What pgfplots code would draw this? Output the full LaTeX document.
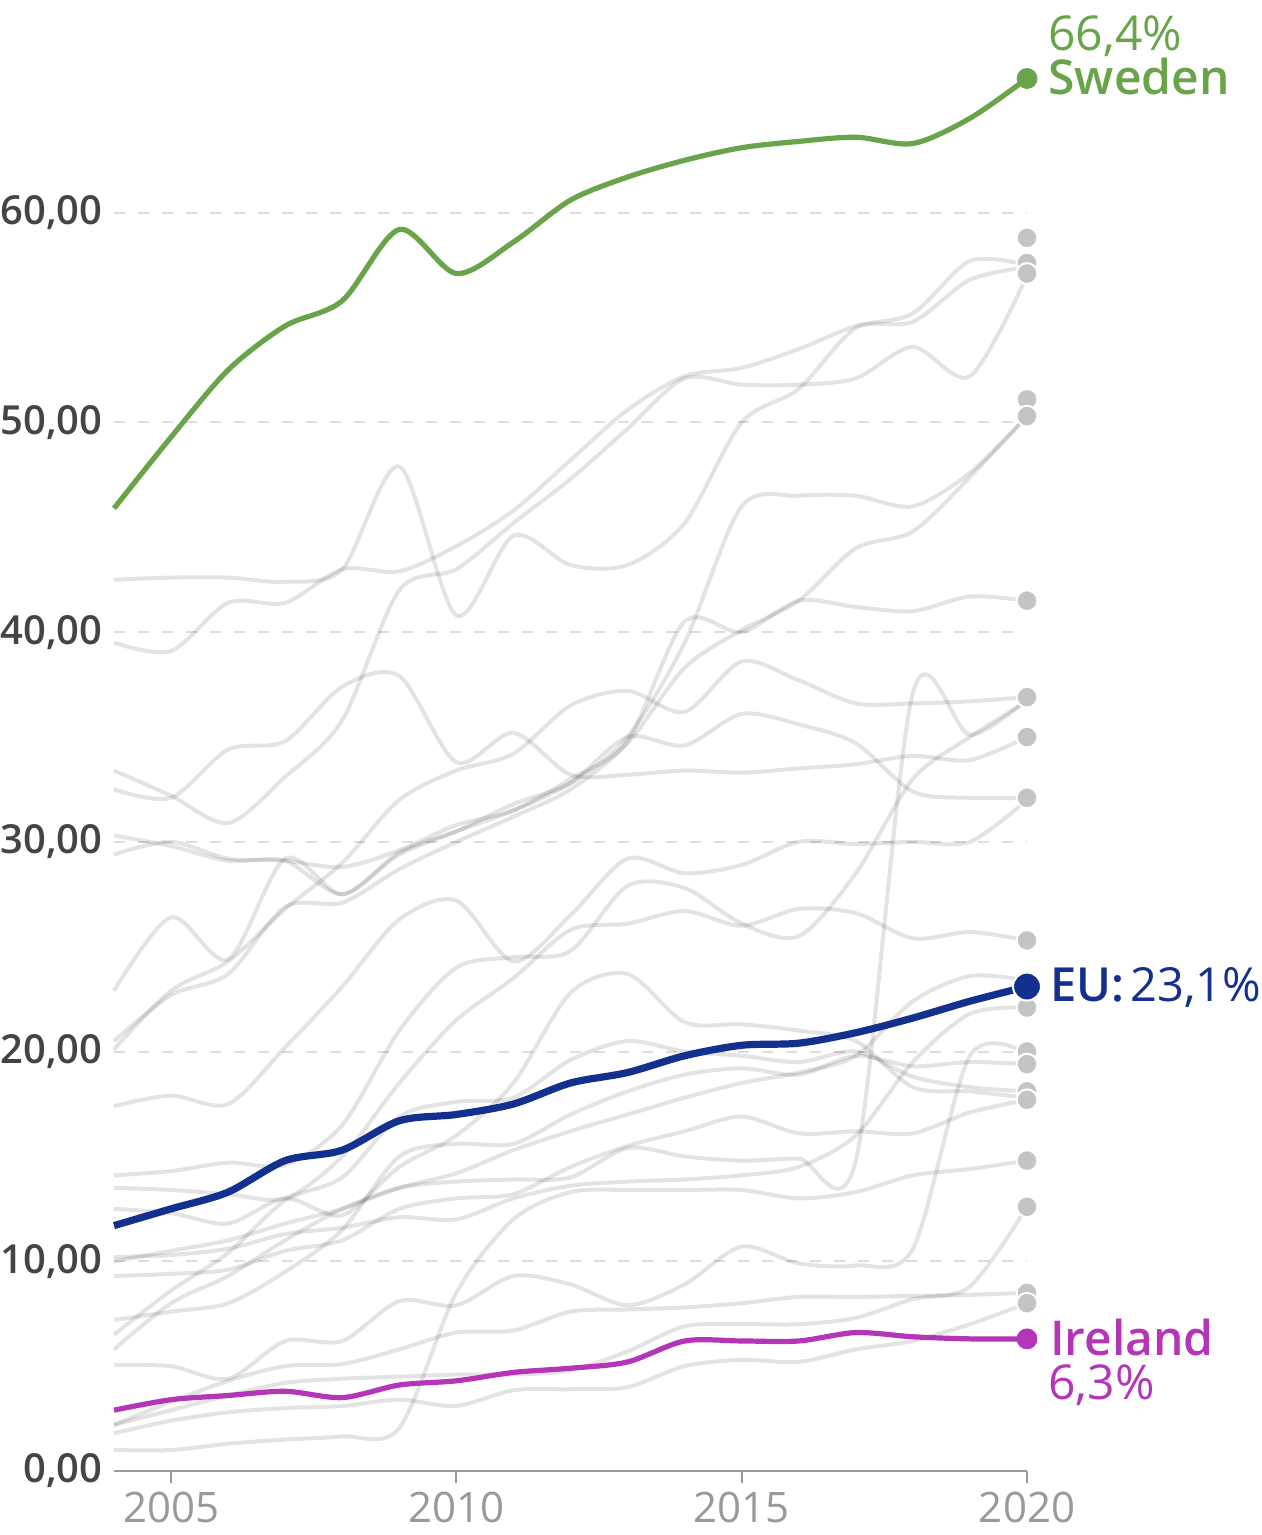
\documentclass[border=0pt]{standalone}
\usepackage{fontspec}
\setmainfont{Open Sans}[BoldFont={Open Sans Semibold}]
\usepackage{pgfplots}
\pgfplotsset{compat=1.18}
\usepackage{pgfplotstable}
\definecolor{swe}{HTML}{6AA44A}
\definecolor{eu}{HTML}{14308F}
\definecolor{irl}{HTML}{B535B8}
\definecolor{dotgray}{HTML}{C4C4C4}
\definecolor{gridgray}{HTML}{DDDDDD}
\definecolor{ticklab}{HTML}{444444}
\definecolor{xlab}{HTML}{999999}
\definecolor{axisgray}{HTML}{999999}

\pgfplotstableread{
year G1 G2 G3 G4 F P K Dk SI N Q R T W X Ya Yb C Mt Za BE NL LU HU
2004 39.5 42.5 33.4 32.5 30.3 29.4 20.1 20.5 17.4 22.9 14.1 13.5 10.0 10.2 7.2 12.5 9.3 5.8 5.05 1.0 2.2 1.8 2.2 6.5
2005 39.1 42.6 32.2 32.1 29.8 30.0 22.9 22.7 17.9 26.4 14.3 13.4 10.5 10.3 7.6 12.3 9.4 8.0 5.0 1.0 3.3 2.4 2.9 8.6
2006 41.4 42.6 30.9 34.4 29.1 29.2 24.3 23.7 17.5 24.4 14.7 13.2 11.0 10.6 8.0 11.8 9.6 9.3 4.4 1.3 4.3 2.8 3.6 10.4
2007 41.4 42.4 33.1 34.8 29.1 29.1 26.8 26.9 20.2 29.2 14.6 13.0 11.8 11.3 9.5 13.0 10.5 11.0 6.2 1.5 5.0 3.0 4.2 12.9
2008 43.0 43.0 35.8 37.4 27.5 28.8 29.0 27.1 23.1 27.5 16.5 15.0 12.5 11.6 11.5 12.2 11.0 12.5 6.2 1.65 5.1 3.1 4.4 14.0
2009 42.9 47.9 42.0 37.9 29.4 29.6 32.0 28.7 26.3 29.5 21.0 18.5 13.5 12.1 15.0 14.5 12.5 13.5 8.1 2.05 5.8 3.4 4.5 16.9
2010 44.1 40.8 43.0 33.8 30.5 30.8 33.4 30.0 27.2 30.5 24.0 21.5 14.2 12.0 15.6 16.0 13.0 13.8 7.9 8.5 6.6 3.1 4.6 17.6
2011 45.8 44.6 45.2 35.2 31.8 31.5 34.2 31.2 24.3 31.5 24.5 23.5 15.3 13.0 15.6 18.5 13.2 13.9 9.3 12.0 6.7 3.85 4.6 17.8
2012 48.2 43.2 47.3 33.2 32.8 33.0 36.5 32.5 26.5 32.8 24.8 25.8 16.2 13.6 17.0 22.8 14.5 14.0 8.9 13.3 7.6 3.9 4.8 19.6
2013 50.6 43.2 49.7 33.2 35.0 34.8 37.2 34.7 29.2 35.0 27.9 26.1 17.0 13.8 18.1 23.7 15.5 15.4 7.9 13.4 7.7 4.0 5.7 20.5
2014 52.2 45.2 52.1 33.4 39.5 40.5 36.2 38.3 28.5 34.6 27.8 26.7 17.8 13.9 18.9 21.4 16.2 15.0 8.9 13.4 7.8 5.0 6.9 20.0
2015 52.6 50.0 51.8 33.3 46.0 40.0 38.6 40.1 28.9 36.1 26.1 26.0 18.5 14.1 19.2 21.3 16.9 14.8 10.7 13.4 8.0 5.3 7.0 19.8
2016 53.5 51.6 51.8 33.5 46.5 41.5 37.7 41.5 30.0 35.6 25.5 26.8 19.0 14.5 18.9 21.0 16.1 14.9 9.9 13.0 8.3 5.2 7.0 19.5
2017 54.6 54.5 52.1 33.7 46.5 41.2 36.6 44.0 29.9 34.7 28.5 26.6 19.8 16.0 19.8 20.5 16.2 14.8 9.8 13.3 8.3 5.8 7.3 20.0
2018 55.2 54.8 53.6 34.1 46.0 41.0 36.6 44.8 30.0 32.4 33.0 25.4 22.4 19.5 19.3 18.3 16.1 37.1 10.6 14.1 8.35 6.2 8.2 18.8
2019 57.7 56.8 52.2 33.9 47.6 41.7 36.7 47.4 30.0 32.1 35.0 25.7 23.6 21.8 19.5 18.1 17.1 35.1 19.8 14.4 8.4 7.0 8.8 18.3
2020 57.5 57.4 57.0 35.0 50.3 41.5 36.9 50.3 32.0 32.1 36.7 25.3 23.4 22.1 19.4 17.8 17.7 36.8 19.9 14.8 8.5 8.0 12.6 18.1
}\graytab

\pgfplotstableread{
year SE EU IE
2004 45.9 11.7 2.9
2005 49.3 12.5 3.4
2006 52.5 13.3 3.6
2007 54.6 14.8 3.8
2008 55.8 15.3 3.5
2009 59.2 16.7 4.1
2010 57.1 17.0 4.3
2011 58.6 17.5 4.7
2012 60.6 18.5 4.9
2013 61.7 19.0 5.2
2014 62.5 19.8 6.2
2015 63.1 20.3 6.2
2016 63.4 20.4 6.2
2017 63.6 20.9 6.6
2018 63.3 21.6 6.4
2019 64.5 22.4 6.3
2020 66.4 23.1 6.3
}\hltab

\pgfplotstableread{
x y
2020 58.8
2020 57.6
2020 57.1
2020 51.1
2020 50.3
2020 41.5
2020 36.9
2020 35.0
2020 32.1
2020 25.3
2020 23.3
2020 22.1
2020 20.0
2020 19.4
2020 18.1
2020 17.7
2020 14.8
2020 12.6
2020 8.5
2020 8.0
}\dottab

\begin{document}
\begin{tikzpicture}
\begin{axis}[
  at={(0,0)}, anchor=south west, scale only axis,
  width=456.5pt, height=734pt,
  xmin=2004, xmax=2020, ymin=0, ymax=70,
  clip=false,
  axis x line*=bottom, axis y line*=left,
  x axis line style={draw=axisgray, line width=1pt, -},
  y axis line style={draw=none},
  xtick={2005,2010,2015,2020},
  xticklabels={2005,2010,2015,2020},
  xtick style={draw=axisgray, line width=1pt},
  tick align=outside, major tick length=6pt,
  ytick={0,10,20,30,40,50,60},
  ytick style={draw=none},
  ymajorgrids,
  grid style={gridgray, line width=1pt, dash pattern=on 5.5pt off 6.5pt},
  xticklabel style={font=\fontsize{21}{21}\selectfont, text=xlab, inner sep=0pt, anchor=base, yshift=-19.5pt},
  yticklabel style={font=\fontsize{20}{20}\selectfont\bfseries, text=ticklab, inner sep=0pt, anchor=base east, xshift=0.5pt, yshift=-6pt,
    /pgf/number format/.cd, fixed, fixed zerofill, precision=2, use comma, assume math mode=true},
]
\pgfplotsinvokeforeach{G1,G2,G3,G4,F,P,K,Dk,SI,N,Q,R,T,W,X,Ya,Yb,C,Mt,Za,BE,NL,LU,HU}{
  \addplot[black, opacity=0.11, line width=2pt, smooth, tension=0.5, no marks] table[x=year, y=#1] {\graytab};
}
\addplot[only marks, mark=*, mark size=5.2pt, mark options={solid, fill=dotgray, draw=white, line width=1pt}] table[x=x, y=y] {\dottab};

\addplot[swe, line width=2.6pt, smooth, tension=0.5, no marks] table[x=year, y=SE] {\hltab};
\addplot[irl, line width=2.6pt, smooth, tension=0.5, no marks] table[x=year, y=IE] {\hltab};
\addplot[eu, line width=3.6pt, smooth, tension=0.5, no marks] table[x=year, y=EU] {\hltab};

\addplot[swe, only marks, mark=*, mark size=5pt, mark options={solid, fill=swe, draw=swe}] coordinates {(2020,66.4)};
\addplot[irl, only marks, mark=*, mark size=5pt, mark options={solid, fill=irl, draw=irl}] coordinates {(2020,6.3)};
\addplot[eu, only marks, mark=*, mark size=7pt, mark options={solid, fill=eu, draw=white, line width=1pt}] coordinates {(2020,23.1)};

\node[anchor=base west, text=swe, font=\fontsize{24}{24}\selectfont, inner sep=0pt] at (axis cs:2020.37,67.75) {66,4\%};
\node[anchor=base west, text=swe, font=\fontsize{24}{24}\selectfont\bfseries, inner sep=0pt] at (axis cs:2020.37,65.63) {Sweden};
\node[anchor=base west, text=eu, font=\fontsize{23.5}{23.5}\selectfont, inner sep=0pt] at (axis cs:2020.40,22.37) {\textbf{EU:}\hspace{3pt}23,1\%};
\node[anchor=base west, text=irl, font=\fontsize{24}{24}\selectfont\bfseries, inner sep=0pt] at (axis cs:2020.40,5.53) {Ireland};
\node[anchor=base west, text=irl, font=\fontsize{24}{24}\selectfont, inner sep=0pt] at (axis cs:2020.37,3.39) {6,3\%};
\end{axis}
\pgfresetboundingbox
\path (-57pt,-32pt) rectangle (574pt,735.5pt);
\end{tikzpicture}
\end{document}
